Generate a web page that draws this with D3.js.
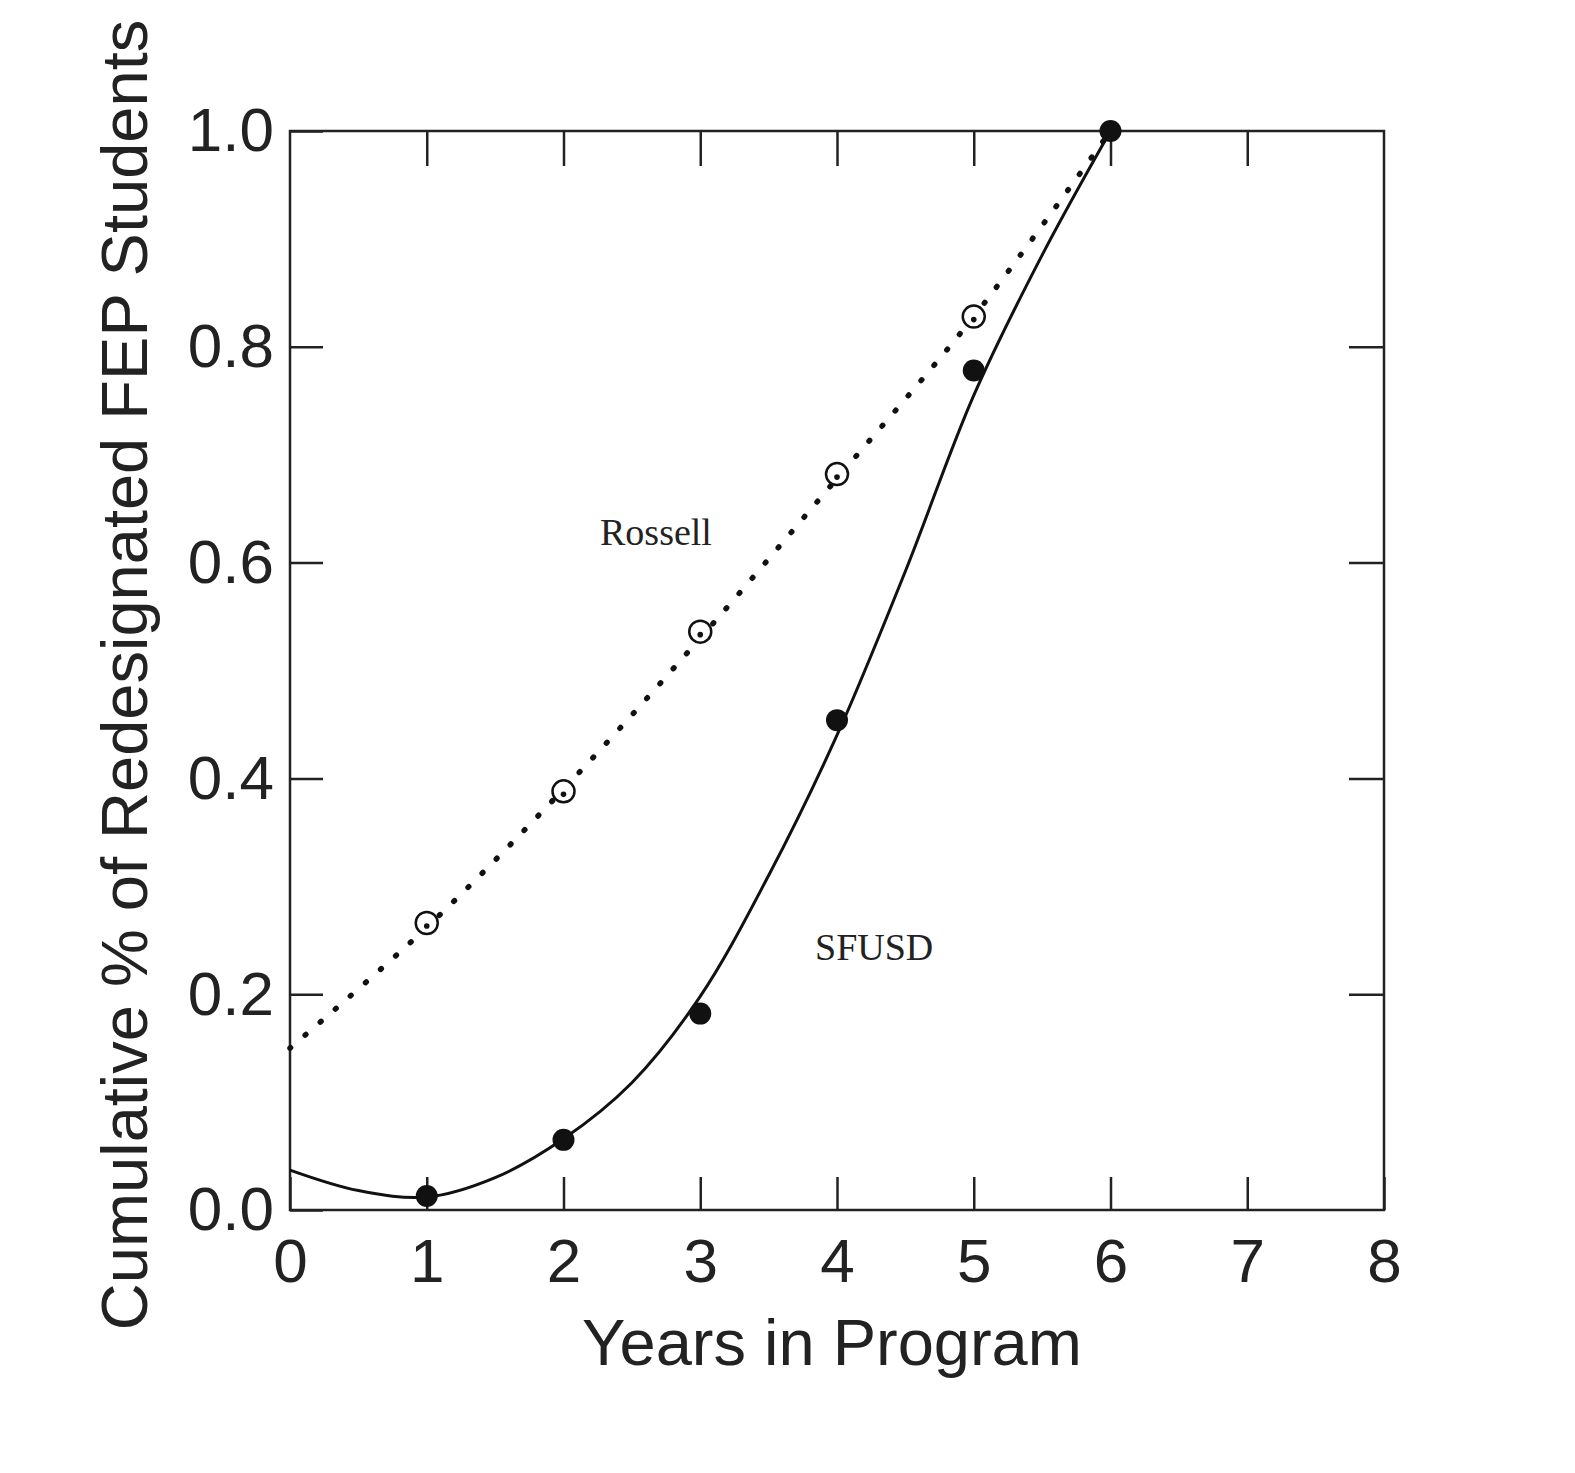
<!DOCTYPE html>
<html>
<head>
<meta charset="utf-8">
<script src="https://cdn.jsdelivr.net/npm/d3@7"></script>
<style>
  body { margin: 0; background: #fff; }
  .axis text { font-family: "Liberation Sans", Arial, sans-serif; font-size: 62px; fill: #222; }
  .axis path { display: none; }
  .axis line { stroke: #222; stroke-width: 2.5; }
</style>
</head>
<body>
<svg id="chart" width="1575" height="1473"></svg>
<script>
// observed points
const years = [1, 2, 3, 4, 5, 6];
const sfusdPts = [0.013, 0.065, 0.182, 0.454, 0.778, 1.0];
const rossellPts = [0.266, 0.388, 0.536, 0.682, 0.828];

// fitted curves
const sfusdFitX = [0, 0.5, 1, 1.5, 2, 2.5, 3, 3.5, 4, 4.5, 5, 5.5, 6];
const sfusdFitY = [0.037, 0.018, 0.012, 0.03, 0.066, 0.118, 0.198, 0.31, 0.44, 0.592, 0.755, 0.885, 1.0];
const rossellFitX = [0, 1, 2, 3, 4, 5, 6];
const rossellFitY = [0.15, 0.262, 0.39, 0.53, 0.678, 0.828, 1.0];

const xTicks = [0, 1, 2, 3, 4, 5, 6, 7, 8];
const yTicks = [0, 0.2, 0.4, 0.6, 0.8, 1.0];

const svg = d3.select("#chart");
const mLeft = 290, mRight = 1384, mTop = 131, mBottom = 1210;

const x = d3.scaleLinear().domain([0, 8]).range([mLeft, mRight]);
const y = d3.scaleLinear().domain([0, 1]).range([mBottom, mTop]);

// frame
svg.append("rect")
  .attr("x", mLeft).attr("y", mTop)
  .attr("width", mRight - mLeft).attr("height", mBottom - mTop)
  .attr("fill", "none").attr("stroke", "#222").attr("stroke-width", 2.5);

// axes, ticks pointing inward
svg.append("g").attr("class", "axis")
  .attr("transform", `translate(0,${mBottom})`)
  .call(d3.axisBottom(x).tickValues(xTicks).tickSize(-33).tickPadding(28).tickFormat(d3.format("d")));

svg.append("g").attr("class", "axis")
  .attr("transform", `translate(0,${mTop})`)
  .call(d3.axisTop(x).tickValues(xTicks.slice(1, -1)).tickSize(-35).tickFormat(""));

svg.append("g").attr("class", "axis")
  .attr("transform", `translate(${mLeft},0)`)
  .call(d3.axisLeft(y).tickValues(yTicks).tickSize(-33).tickPadding(16).tickFormat(d3.format(".1f")));

svg.append("g").attr("class", "axis")
  .attr("transform", `translate(${mRight},0)`)
  .call(d3.axisRight(y).tickValues(yTicks.slice(1, -1)).tickSize(-35).tickFormat(""));

// curves
const line = d3.line().x(d => x(d[0])).y(d => y(d[1])).curve(d3.curveCatmullRom);

svg.append("path")
  .datum(d3.zip(rossellFitX, rossellFitY))
  .attr("d", line)
  .attr("fill", "none").attr("stroke", "#111")
  .attr("stroke-width", 5.5).attr("stroke-linecap", "round")
  .attr("stroke-dasharray", "1 19");

svg.append("path")
  .datum(d3.zip(sfusdFitX, sfusdFitY))
  .attr("d", line)
  .attr("fill", "none").attr("stroke", "#111").attr("stroke-width", 3);

// markers
svg.selectAll(".ross").data(d3.zip(years.slice(0, 5), rossellPts)).join("circle")
  .attr("class", "ross")
  .attr("cx", d => x(d[0])).attr("cy", d => y(d[1])).attr("r", 11)
  .attr("fill", "#fff").attr("stroke", "#111").attr("stroke-width", 2.5);

svg.selectAll(".ross-dot").data(d3.zip(years.slice(0, 5), rossellPts)).join("circle")
  .attr("class", "ross-dot")
  .attr("cx", d => x(d[0])).attr("cy", d => y(d[1]) + 3).attr("r", 2.8)
  .attr("fill", "#111");

svg.selectAll(".sf").data(d3.zip(years, sfusdPts)).join("circle")
  .attr("class", "sf")
  .attr("cx", d => x(d[0])).attr("cy", d => y(d[1])).attr("r", 11)
  .attr("fill", "#111");

// series labels
svg.append("text").attr("x", 600).attr("y", 545)
  .attr("font-family", "Liberation Serif, Times New Roman, serif").attr("font-size", 38).attr("fill", "#222")
  .text("Rossell");
svg.append("text").attr("x", 815).attr("y", 960)
  .attr("font-family", "Liberation Serif, Times New Roman, serif").attr("font-size", 38).attr("fill", "#222")
  .text("SFUSD");

// axis titles
svg.append("text")
  .attr("x", 832).attr("y", 1365).attr("text-anchor", "middle")
  .attr("font-family", "Liberation Sans, Arial, sans-serif").attr("font-size", 65).attr("fill", "#222")
  .text("Years in Program");

svg.append("text")
  .attr("transform", "translate(147,675) rotate(-90)").attr("text-anchor", "middle")
  .attr("font-family", "Liberation Sans, Arial, sans-serif").attr("font-size", 65).attr("fill", "#222")
  .text("Cumulative % of Redesignated FEP Students");
</script>
</body>
</html>
